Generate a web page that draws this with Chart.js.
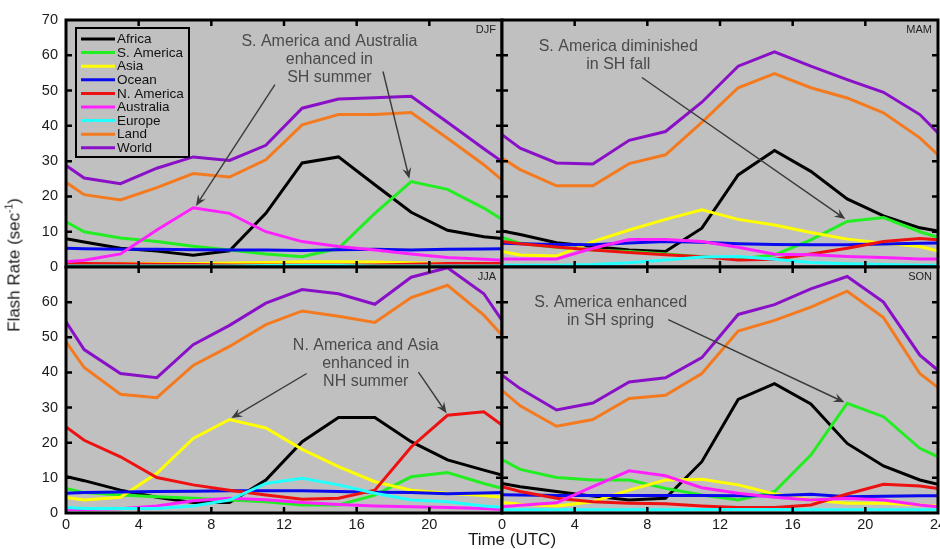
<!DOCTYPE html>
<html>
<head>
<meta charset="utf-8">
<script src="https://cdn.jsdelivr.net/npm/chart.js@4/dist/chart.umd.min.js"></script>
<style>
  html, body { margin: 0; padding: 0; background: #fff; }
  #wrap { position: relative; width: 940px; height: 549px; overflow: hidden; font-family: "Liberation Sans", Arial, sans-serif; color: #1a1a1a; }
  #wrap canvas { position: absolute; left: 0; top: 0; }
  #ytitle { position: absolute; left: 14px; top: 265px; transform: translate(-50%, -50%) rotate(-90deg); font-size: 17px; white-space: nowrap; }
  #ytitle sup { font-size: 10px; vertical-align: 7px; }
  #xtitle { position: absolute; left: 512px; top: 540px; transform: translate(-50%, -50%); font-size: 17px; white-space: nowrap; }
</style>
</head>
<body>
<div id="wrap">
  <canvas id="cDJF" width="940" height="549"></canvas>
  <canvas id="cMAM" width="940" height="549"></canvas>
  <canvas id="cJJA" width="940" height="549"></canvas>
  <canvas id="cSON" width="940" height="549"></canvas>
  <div id="ytitle">Flash Rate (sec<sup>-1</sup>)</div>
  <div id="xtitle">Time (UTC)</div>
</div>
<script>
// horas UTC das amostras (0 e 24 fecham o ciclo)
const hours = [0, 1, 3, 5, 7, 9, 11, 13, 15, 17, 19, 21, 23, 24];
const regions = ["Africa", "S. America", "Asia", "Ocean", "N. America", "Australia", "Europe", "Land", "World"];
const colors = ["#000000", "#22ee22", "#ffff00", "#0a0aee", "#ee1111", "#ff22ff", "#22ffff", "#f47a20", "#8a10c8"];
const xTicks = [0, 4, 8, 12, 16, 20, 24];
const yTicks = [0, 10, 20, 30, 40, 50, 60, 70];

// taxas por estação, uma linha por região (mesma ordem de "regions")
const djfRates = [
  [8.0, 7.1, 5.3, 4.5, 3.3, 4.6, 15.2, 29.5, 31.2, 23.3, 15.5, 10.4, 8.6, 8.1],        // Africa
  [12.8, 10.0, 8.2, 7.2, 5.9, 4.8, 3.7, 2.9, 5.3, 15.2, 24.2, 22.0, 16.7, 13.5],      // S. America
  [0.8, 0.8, 0.9, 1.0, 1.0, 1.1, 1.3, 1.5, 1.5, 1.4, 1.2, 1.0, 0.9, 0.8],             // Asia
  [5.3, 5.2, 5.0, 5.0, 4.9, 4.8, 4.8, 4.7, 4.9, 5.0, 4.8, 5.0, 5.1, 5.2],             // Ocean
  [1.0, 1.0, 0.9, 0.8, 0.7, 0.6, 0.6, 0.5, 0.5, 0.6, 0.8, 1.0, 1.0, 1.0],             // N. America
  [1.5, 1.9, 3.7, 10.5, 16.8, 15.2, 10.0, 7.2, 5.8, 4.8, 3.7, 2.7, 2.2, 1.9],         // Australia
  [0.3, 0.3, 0.3, 0.3, 0.3, 0.3, 0.4, 0.4, 0.4, 0.3, 0.3, 0.3, 0.3, 0.3],             // Europe
  [24.0, 20.5, 19.0, 22.5, 26.5, 25.5, 30.4, 40.3, 43.2, 43.2, 43.8, 36.5, 29.0, 24.7], // Land
  [28.8, 25.2, 23.6, 28.0, 31.2, 30.2, 34.5, 45.0, 47.6, 48.0, 48.4, 41.0, 33.5, 29.9]  // World
];
const mamRates = [
  [10.2, 9.2, 6.9, 5.8, 4.8, 4.4, 11.0, 26.1, 33.0, 27.1, 19.3, 14.5, 11.1, 10.2],
  [8.4, 6.7, 5.6, 4.8, 4.4, 3.7, 2.9, 2.3, 3.4, 7.7, 12.9, 14.0, 10.0, 8.4],
  [4.4, 3.4, 3.1, 7.2, 10.5, 13.5, 16.2, 13.5, 11.9, 9.8, 7.9, 6.7, 5.8, 4.5],
  [6.7, 6.6, 6.4, 6.3, 6.8, 7.2, 7.0, 6.6, 6.4, 6.3, 6.3, 6.5, 6.7, 6.8],
  [7.2, 6.6, 5.7, 4.8, 4.1, 3.5, 2.9, 2.0, 2.2, 3.7, 5.3, 7.2, 8.1, 7.7],
  [2.3, 2.3, 2.3, 5.3, 7.8, 7.8, 7.2, 5.6, 3.6, 3.5, 3.0, 2.7, 2.3, 2.3],
  [0.5, 0.5, 0.5, 0.7, 1.2, 2.0, 2.8, 3.0, 2.2, 1.3, 0.9, 0.7, 0.5, 0.5],
  [30.9, 27.6, 23.0, 23.0, 29.3, 31.8, 41.0, 50.8, 54.8, 50.8, 47.9, 43.7, 36.6, 31.8],
  [37.5, 33.7, 29.5, 29.2, 35.9, 38.4, 46.7, 56.9, 61.0, 56.9, 53.1, 49.5, 43.2, 38.0]
];
const jjaRates = [
  [10.4, 9.2, 6.5, 4.5, 3.0, 3.0, 9.4, 20.3, 27.2, 27.2, 20.3, 15.1, 12.2, 10.8],
  [7.0, 5.8, 5.1, 4.6, 4.2, 3.7, 3.2, 2.3, 2.3, 5.1, 10.3, 11.5, 8.4, 7.0],
  [4.4, 3.7, 4.5, 11.3, 21.2, 26.6, 24.2, 18.1, 13.2, 8.9, 6.5, 5.6, 5.0, 4.5],
  [5.6, 5.8, 6.0, 6.1, 6.2, 6.3, 6.3, 6.3, 6.1, 5.9, 5.8, 5.5, 5.7, 5.8],
  [24.5, 20.7, 16.0, 10.1, 8.0, 6.5, 5.1, 3.9, 4.2, 6.5, 18.8, 27.8, 28.8, 25.0],
  [1.0, 1.0, 1.2, 2.0, 3.5, 4.2, 3.8, 3.0, 2.4, 2.0, 1.8, 1.6, 1.3, 1.0],
  [1.6, 1.3, 1.3, 1.3, 2.0, 3.7, 8.4, 9.9, 8.0, 5.6, 3.7, 3.2, 2.0, 1.6],
  [48.7, 41.4, 33.8, 32.8, 42.0, 47.4, 53.6, 57.5, 56.0, 54.2, 61.3, 64.8, 56.3, 50.6],
  [54.4, 46.5, 39.7, 38.5, 47.9, 53.4, 59.7, 63.6, 62.4, 59.4, 67.1, 69.8, 62.4, 54.8]
];
const sonRates = [
  [8.4, 7.5, 6.1, 4.8, 3.7, 4.2, 14.6, 32.3, 36.8, 31.0, 19.8, 13.4, 9.4, 8.2],
  [15.2, 12.4, 10.1, 9.4, 9.4, 7.0, 5.1, 3.7, 6.1, 16.5, 31.2, 27.4, 18.4, 16.0],
  [3.0, 2.5, 2.0, 3.2, 6.5, 9.4, 9.6, 8.0, 5.4, 3.7, 2.8, 2.8, 2.3, 2.0],
  [5.2, 5.1, 5.0, 5.0, 5.0, 5.0, 5.0, 4.9, 4.9, 5.3, 4.6, 4.8, 4.9, 4.9],
  [7.5, 6.1, 4.2, 3.2, 2.8, 2.6, 2.0, 1.6, 1.6, 2.3, 5.4, 8.2, 7.7, 7.0],
  [1.8, 2.2, 2.9, 7.5, 12.0, 10.6, 7.2, 5.6, 4.5, 3.7, 4.2, 3.7, 2.3, 1.8],
  [0.9, 0.9, 0.9, 0.9, 0.9, 0.9, 1.0, 1.0, 1.0, 0.9, 0.9, 0.9, 0.9, 0.9],
  [34.9, 30.5, 24.7, 26.6, 32.6, 33.5, 39.7, 51.8, 54.8, 58.6, 63.1, 55.6, 39.7, 35.7],
  [39.2, 35.4, 29.3, 31.3, 37.3, 38.5, 44.2, 56.5, 59.3, 63.8, 67.3, 60.0, 44.9, 40.6]
];

// notas de cada painel (posições em coordenadas de dados)
const notes = {
  DJF: { lines: ["S. America and Australia", "enhanced in", "SH summer"], x: 14.5, y: [63.9, 58.8, 53.7],
         arrows: [[11.5, 51.7, 7.15, 17.3], [17.45, 55.4, 18.9, 25.0]] },
  MAM: { lines: ["S. America diminished", "in SH fall"], x: 6.4, y: [62.6, 57.4],
         arrows: [[7.7, 53.7, 18.9, 13.6]] },
  JJA: { lines: ["N. America and Asia", "enhanced in", "NH summer"], x: 16.5, y: [47.7, 42.5, 37.3],
         arrows: [[13.25, 39.7, 9.1, 27.0], [19.4, 40.1, 20.95, 28.4]] },
  SON: { lines: ["S. America enhanced", "in SH spring"], x: 5.98, y: [60.0, 54.8],
         arrows: [[9.15, 55.0, 18.85, 31.5]] }
};

const FONT = "'Liberation Sans', Arial, sans-serif";

function drawArrow(ctx, x1, y1, x2, y2) {
  const a = Math.atan2(y2 - y1, x2 - x1);
  const hl = 11, hw = 4.5;
  ctx.beginPath();
  ctx.moveTo(x1, y1);
  ctx.lineTo(x2 - 6 * Math.cos(a), y2 - 6 * Math.sin(a));
  ctx.stroke();
  ctx.beginPath();
  ctx.moveTo(x2, y2);
  ctx.lineTo(x2 - hl * Math.cos(a) + hw * Math.sin(a), y2 - hl * Math.sin(a) - hw * Math.cos(a));
  ctx.lineTo(x2 - 7 * Math.cos(a), y2 - 7 * Math.sin(a));
  ctx.lineTo(x2 - hl * Math.cos(a) - hw * Math.sin(a), y2 - hl * Math.sin(a) + hw * Math.cos(a));
  ctx.closePath();
  ctx.fill();
}

// fundo cinza, moldura, marcas internas, rótulos e legenda
const panelPlugin = {
  id: "panel",
  beforeDraw(chart) {
    const { ctx, chartArea: a } = chart;
    ctx.save();
    ctx.fillStyle = "#c0c0c0";
    ctx.fillRect(a.left, a.top, a.right - a.left, a.bottom - a.top);
    ctx.restore();
  },
  afterDatasetsDraw(chart) {
    const { ctx, chartArea: a, scales } = chart;
    ctx.save();
    ctx.strokeStyle = "#000";
    ctx.lineWidth = 2.5;
    xTicks.slice(1, -1).forEach(v => {
      const px = scales.x.getPixelForValue(v);
      ctx.beginPath();
      ctx.moveTo(px, a.bottom); ctx.lineTo(px, a.bottom - 6);
      ctx.moveTo(px, a.top); ctx.lineTo(px, a.top + 6);
      ctx.stroke();
    });
    yTicks.slice(1, -1).forEach(v => {
      const py = scales.y.getPixelForValue(v);
      ctx.beginPath();
      ctx.moveTo(a.left, py); ctx.lineTo(a.left + 6, py);
      ctx.moveTo(a.right, py); ctx.lineTo(a.right - 6, py);
      ctx.stroke();
    });
    ctx.lineWidth = 3;
    ctx.strokeRect(a.left, a.top, a.right - a.left, a.bottom - a.top);
    ctx.restore();
  },
  afterDraw(chart) {
    const { ctx, chartArea: a, scales } = chart;
    const opts = chart.options.plugins.panel;
    const note = notes[opts.season];
    ctx.save();
    // nome da estação
    ctx.fillStyle = "#222";
    ctx.font = "11px " + FONT;
    ctx.textAlign = "right";
    ctx.textBaseline = "middle";
    ctx.fillText(opts.season, a.right - 6, a.top + 10);
    // texto da nota
    ctx.fillStyle = "#4a4a4a";
    ctx.font = "16px " + FONT;
    ctx.textAlign = "center";
    note.lines.forEach((t, i) => {
      ctx.fillText(t, scales.x.getPixelForValue(note.x), scales.y.getPixelForValue(note.y[i]));
    });
    ctx.strokeStyle = "#3a3a3a";
    ctx.fillStyle = "#3a3a3a";
    ctx.lineWidth = 1.4;
    note.arrows.forEach(ar => {
      drawArrow(ctx, scales.x.getPixelForValue(ar[0]), scales.y.getPixelForValue(ar[1]),
                scales.x.getPixelForValue(ar[2]), scales.y.getPixelForValue(ar[3]));
    });
    // legenda só no primeiro painel
    if (opts.legend) {
      const lx = a.left + 10, ly = a.top + 8, w = 113, h = 129;
      ctx.lineWidth = 2;
      ctx.strokeStyle = "#000";
      ctx.strokeRect(lx, ly, w, h);
      ctx.font = "13.5px " + FONT;
      ctx.textAlign = "left";
      ctx.fillStyle = "#111";
      regions.forEach((r, i) => {
        const y = ly + 11 + i * 13.6;
        ctx.strokeStyle = colors[i];
        ctx.lineWidth = 3;
        ctx.beginPath();
        ctx.moveTo(lx + 5, y); ctx.lineTo(lx + 39, y);
        ctx.stroke();
        ctx.fillText(r, lx + 41, y + 0.5);
      });
    }
    ctx.restore();
  }
};

// pad: espaço livre em volta; axW/axH: largura do eixo y e altura do eixo x
function makePanel(id, season, rates, pad, axW, axH, hideLast) {
  const datasets = regions.map((r, i) => ({
    label: r,
    data: hours.map((h, j) => ({ x: h, y: rates[i][j] })),
    borderColor: colors[i],
    borderWidth: 3,
    pointRadius: 0,
    tension: 0,
    fill: false,
    order: regions.length - i
  }));
  const fixFit = (s, size, horiz) => {
    if (horiz) s.height = size; else s.width = size;
    s.paddingLeft = s.paddingRight = s.paddingTop = s.paddingBottom = 0;
  };
  new Chart(document.getElementById(id), {
    type: "line",
    data: { datasets },
    plugins: [panelPlugin],
    options: {
      responsive: false,
      animation: false,
      devicePixelRatio: 1,
      layout: { padding: pad },
      plugins: {
        legend: { display: false },
        tooltip: { enabled: false },
        panel: { season, legend: season === "DJF" }
      },
      scales: {
        x: {
          type: "linear", min: 0, max: 24,
          grid: { display: false, drawTicks: false },
          border: { display: false },
          ticks: {
            display: axH > 0, stepSize: 4, autoSkip: false, maxRotation: 0, padding: 3,
            color: "#1a1a1a", font: { family: FONT, size: 14.5 },
            callback: v => (hideLast && v === 24) ? "" : v
          },
          afterFit: s => fixFit(s, axH, true)
        },
        y: {
          min: 0, max: 70,
          grid: { display: false, drawTicks: false },
          border: { display: false },
          ticks: {
            display: axW > 0, stepSize: 10, padding: 8,
            color: "#1a1a1a", font: { family: FONT, size: 14.5 },
            callback: v => (hideLast && v === 70) ? "" : v
          },
          afterFit: s => fixFit(s, axW, false)
        }
      }
    }
  });
}

makePanel("cDJF", "DJF", djfRates, { left: 0, right: 438, top: 20, bottom: 282 }, 66, 0, false);
makePanel("cMAM", "MAM", mamRates, { left: 502, right: 2, top: 20, bottom: 282 }, 0, 0, false);
makePanel("cJJA", "JJA", jjaRates, { left: 0, right: 438, top: 267, bottom: 0 }, 66, 36, true);
makePanel("cSON", "SON", sonRates, { left: 502, right: 2, top: 267, bottom: 0 }, 0, 36, false);
</script>
</body>
</html>
